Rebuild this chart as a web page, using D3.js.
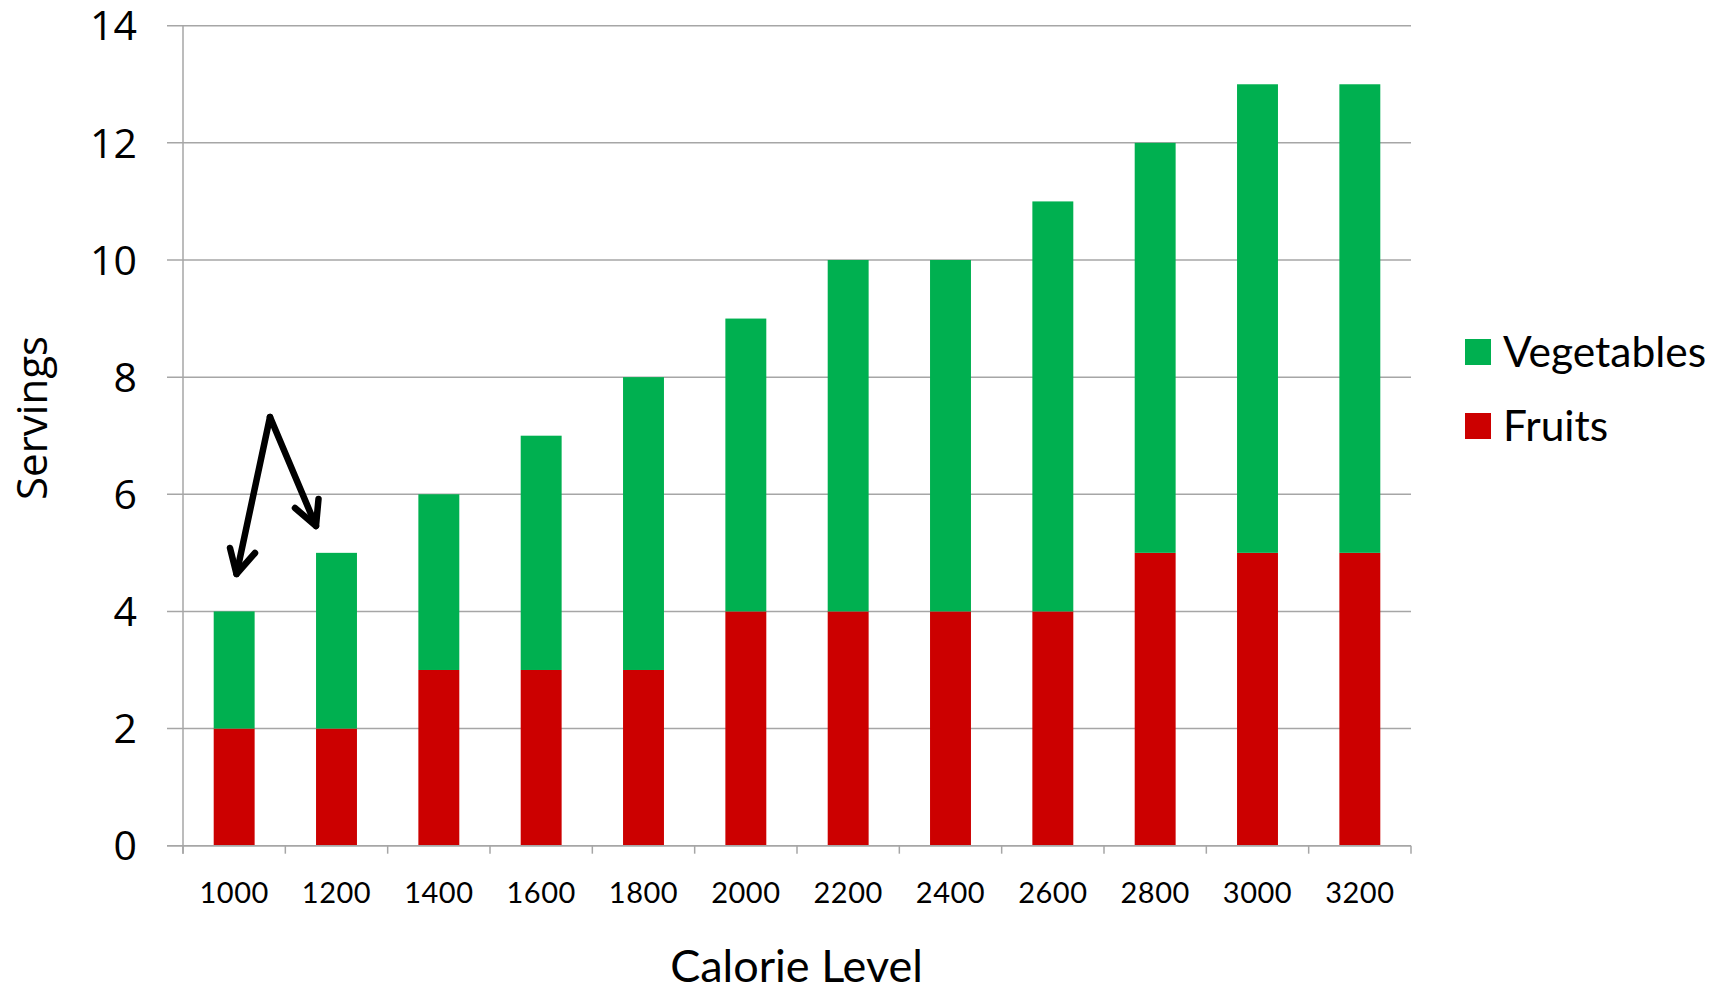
<!DOCTYPE html>
<html><head><meta charset="utf-8">
<script src="https://cdn.jsdelivr.net/npm/d3@7"></script>
<style>body{margin:0;background:#fff}svg{display:block}</style>
</head><body>
<svg id="c" width="1725" height="988"></svg>
<script>
const categories = ["1000","1200","1400","1600","1800","2000","2200","2400","2600","2800","3000","3200"];
const fruits =     [2,2,3,3,3,4,4,4,4,5,5,5];
const vegetables = [2,3,3,4,5,5,6,6,7,7,8,8];
const yTicks = [0,2,4,6,8,10,12,14];
const seriesNames = ["Fruits","Vegetables"];
const colors = {Fruits:"#CC0000", Vegetables:"#00B050"};

const svg = d3.select("#c");
const L=183, R=1411, T=25.7, B=845.7;
const x = d3.scaleBand().domain(categories).range([L,R]).paddingInner(0.6).paddingOuter(0.3);
const xb = d3.scaleBand().domain(categories).range([L,R]);
const y = d3.scaleLinear().domain([0,14]).range([B,T]);

const grid="#a6a6a6";
// gridlines
svg.append("g").selectAll("line").data(yTicks).join("line")
  .attr("x1",L-16).attr("x2",R).attr("y1",d=>y(d)).attr("y2",d=>y(d))
  .attr("stroke",grid).attr("stroke-width",1.5);
// y axis line
svg.append("line").attr("x1",L).attr("x2",L).attr("y1",T).attr("y2",B+8).attr("stroke",grid).attr("stroke-width",1.5);
// y labels
svg.append("g").selectAll("text").data(yTicks).join("text")
  .attr("x",137).attr("y",d=>y(d)).attr("dy","0.36em").attr("text-anchor","end")
  .attr("font-family","'Open Sans', 'Noto Sans', sans-serif").attr("font-size",41).attr("fill","#000")
  .text(d=>d);

// stacked bars
const data = categories.map((c,i)=>({cat:c, Fruits:fruits[i], Vegetables:vegetables[i]}));
const stack = d3.stack().keys(seriesNames)(data);
svg.append("g").selectAll("g").data(stack).join("g").attr("fill",d=>colors[d.key])
  .selectAll("rect").data(d=>d).join("rect")
  .attr("x",d=>x(d.data.cat)).attr("width",x.bandwidth())
  .attr("y",d=>y(d[1])).attr("height",d=>y(d[0])-y(d[1]));

// x axis
svg.append("line").attr("x1",L-16).attr("x2",R).attr("y1",B).attr("y2",B).attr("stroke",grid).attr("stroke-width",1.5);
const tickPos = categories.map(c=>xb(c)).concat([R]);
svg.append("g").selectAll("line").data(tickPos).join("line")
  .attr("x1",d=>d).attr("x2",d=>d).attr("y1",B).attr("y2",B+8).attr("stroke",grid).attr("stroke-width",1.5);
svg.append("g").selectAll("text").data(categories).join("text")
  .attr("x",d=>xb(d)+xb.bandwidth()/2).attr("y",902.5).attr("text-anchor","middle")
  .attr("font-family","Lato, sans-serif").attr("font-size",29).attr("letter-spacing",0.5).attr("fill","#000")
  .text(d=>d);

// axis titles
svg.append("text").attr("x",796.5).attr("y",982).attr("text-anchor","middle")
  .attr("font-family","Lato, sans-serif").attr("font-size",45).attr("fill","#000").text("Calorie Level");
svg.append("text").attr("transform","translate(47,418) rotate(-90)").attr("text-anchor","middle")
  .attr("font-family","'Open Sans', 'Noto Sans', sans-serif").attr("font-size",42).attr("fill","#000").text("Servings");

// legend
const legendItems = ["Vegetables","Fruits"];
const lg = svg.append("g").selectAll("g").data(legendItems).join("g")
  .attr("transform",(d,i)=>`translate(1465,${339+i*74})`);
lg.append("rect").attr("width",26).attr("height",26).attr("fill",d=>colors[d]);
lg.append("text").attr("x",38).attr("y",28).attr("font-family","Lato, sans-serif").attr("font-size",42.5).attr("fill","#000").text(d=>d);

// annotation arrows
const apex = [270,417];
const tips = [[236.5,574],[316,526]];
const heads = [[[230,548],[255,553]],[[295,508],[318.5,499]]];
const ag = svg.append("g").attr("stroke","#000").attr("stroke-width",6.5).attr("fill","none").attr("stroke-linecap","round").attr("stroke-linejoin","round");
tips.forEach((t,i)=>{
  ag.append("path").attr("d",d3.line()([apex,t]));
  ag.append("path").attr("d",d3.line()([heads[i][0],t,heads[i][1]]));
});
</script>
</body></html>
